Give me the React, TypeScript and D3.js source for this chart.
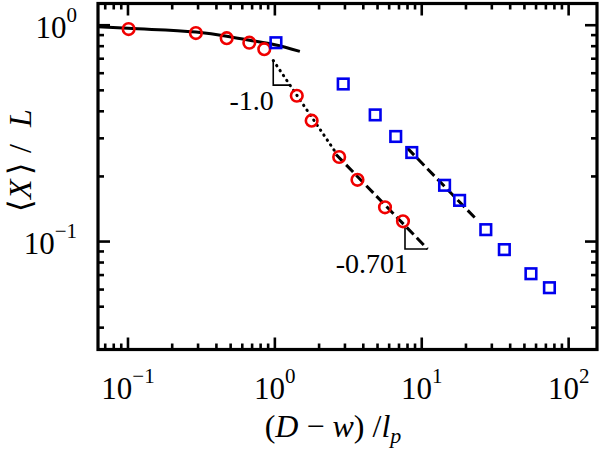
import React from 'react';
import * as d3 from 'd3';

// ---- data ----
const xDomain = [0.0625, 156];
const yDomain = [0.0317, 1.26];

const redX = [0.101, 0.29, 0.47, 0.67, 0.847, 1.41, 1.78, 2.74, 3.65, 5.62, 7.45];
const redY = [0.96, 0.92, 0.871, 0.83, 0.775, 0.472, 0.362, 0.246, 0.193, 0.144, 0.124];

const blueX = [1.017, 2.92, 4.82, 6.65, 8.55, 14.3, 18.1, 27.3, 36.5, 55.4, 74];
const blueY = [0.83, 0.535, 0.385, 0.306, 0.258, 0.182, 0.155, 0.1135, 0.0918, 0.071, 0.0612];

const fitX = [0.0625, 0.1, 0.29, 0.47, 0.67, 1.0, 1.48];
const fitY = [0.985, 0.967, 0.93, 0.89, 0.853, 0.812, 0.757];

// power-law guide lines: y = c * x^slope
const dottedRange = [0.975, 2.61];
const dottedC = 0.67;
const dottedSlope = -1.0;
const dashRedRange = [2.61, 10.96];
const dashRedC = 0.495;
const dashSlope = -0.701;
const dashBlueRange = [7.96, 23.0];
const dashBlueC = 1.16;

const tri1 = [0.975, 1.267];
const tri2 = [7.69, 10.96];
const tri1Label = '-1.0';
const tri2Label = '-0.701';

const xMajor = [0.1, 1, 10, 100];
const xMajorExp = ['\u22121', '0', '1', '2'];
const yMajor = [0.1, 1];
const yMajorExp = ['\u22121', '0'];

// y title pieces (text, italic, offset along axis)
const yTitleParts: [string, boolean, number][] = [
  ['\u27E8', false, -56],
  ['X', true, -43],
  ['\u27E9', false, -19],
  ['/', false, 3],
  ['L', true, 29],
];

const W = 600;
const H = 449;
const L = 98, R = 597, T = 3.5, B = 349.5;
const FONT = "'Liberation Serif', 'Times New Roman', 'DejaVu Serif', serif";

function minorTicks(domain: number[]) {
  const out: number[] = [];
  const lo = Math.floor(Math.log10(domain[0]));
  const hi = Math.ceil(Math.log10(domain[1]));
  for (let e = lo; e <= hi; e++) {
    for (let m = 2; m <= 9; m++) {
      const v = m * Math.pow(10, e);
      if (v > domain[0] && v < domain[1]) out.push(v);
    }
  }
  return out;
}

export default function App() {
  const x = d3.scaleLog().domain(xDomain).range([L, R]);
  const y = d3.scaleLog().domain(yDomain).range([B, T]);

  const pw = (c: number, s: number) => (v: number) => c * Math.pow(v, s);
  const fDot = pw(dottedC, dottedSlope);
  const fRed = pw(dashRedC, dashSlope);
  const fBlue = pw(dashBlueC, dashSlope);

  const line = d3.line<[number, number]>().x(d => x(d[0])).y(d => y(d[1]));
  const fitLine = d3
    .line<[number, number]>()
    .x(d => x(d[0]))
    .y(d => y(d[1]))
    .curve(d3.curveMonotoneX);

  const fitPts: [number, number][] = fitX.map((v, i) => [v, fitY[i]]);
  const dotPts: [number, number][] = dottedRange.map(v => [v, fDot(v)]);
  const redPts: [number, number][] = dashRedRange.map(v => [v, fRed(v)]);
  const bluePts: [number, number][] = dashBlueRange.map(v => [v, fBlue(v)]);

  const triPath = (r: number[], f: (v: number) => number) => {
    const p: [number, number][] = [
      [r[0], f(r[0])],
      [r[0], f(r[1])],
      [r[1], f(r[1])],
    ];
    return line(p) as string;
  };

  const xMinor = minorTicks(xDomain);
  const yMinor = minorTicks(yDomain);
  const MAJ = 12, MIN = 6;

  return (
    <svg
      width={W}
      height={H}
      style={{ position: 'absolute', left: 0, top: 0, display: 'block', background: '#fff', fontFamily: FONT }}
    >
      <rect x={0} y={0} width={W} height={H} fill="#fff" />

      {/* ticks */}
      <g stroke="#000" strokeWidth={2.6}>
        {xMajor.map(v => (
          <g key={'xM' + v}>
            <line x1={x(v)} x2={x(v)} y1={B} y2={B - MAJ} />
            <line x1={x(v)} x2={x(v)} y1={T} y2={T + MAJ} />
          </g>
        ))}
        {xMinor.map(v => (
          <g key={'xm' + v}>
            <line x1={x(v)} x2={x(v)} y1={B} y2={B - MIN} />
            <line x1={x(v)} x2={x(v)} y1={T} y2={T + MIN} />
          </g>
        ))}
        {yMajor.map(v => (
          <g key={'yM' + v}>
            <line x1={L} x2={L + MAJ} y1={y(v)} y2={y(v)} />
            <line x1={R} x2={R - MAJ} y1={y(v)} y2={y(v)} />
          </g>
        ))}
        {yMinor.map(v => (
          <g key={'ym' + v}>
            <line x1={L} x2={L + MIN} y1={y(v)} y2={y(v)} />
            <line x1={R} x2={R - MIN} y1={y(v)} y2={y(v)} />
          </g>
        ))}
      </g>

      {/* lines */}
      <path d={fitLine(fitPts) as string} fill="none" stroke="#000" strokeWidth={3} />
      <path
        d={line(dotPts) as string}
        fill="none"
        stroke="#000"
        strokeWidth={3}
        strokeLinecap="round"
        strokeDasharray="0.5,5.5"
      />
      <path d={line(redPts) as string} fill="none" stroke="#000" strokeWidth={3} strokeDasharray="10,4.5" />
      <path d={line(bluePts) as string} fill="none" stroke="#000" strokeWidth={3} strokeDasharray="10,4.5" />

      {/* slope triangles */}
      <path d={triPath(tri1, fDot)} fill="none" stroke="#000" strokeWidth={1.6} />
      <path d={triPath(tri2, fRed)} fill="none" stroke="#000" strokeWidth={1.6} />
      <text x={x(tri1[0]) + 0.5} y={110} fontSize={28} textAnchor="end">{tri1Label}</text>
      <text x={x(tri2[0]) + 3} y={273} fontSize={28} textAnchor="end">{tri2Label}</text>

      {/* markers */}
      {redX.map((v, i) => (
        <circle key={'r' + i} cx={x(v)} cy={y(redY[i])} r={5.8} fill="none" stroke="#f00000" strokeWidth={2.6} />
      ))}
      {blueX.map((v, i) => (
        <rect
          key={'b' + i}
          x={x(v) - 5.3}
          y={y(blueY[i]) - 5.3}
          width={10.6}
          height={10.6}
          fill="none"
          stroke="#0000ee"
          strokeWidth={2.6}
        />
      ))}

      {/* frame */}
      <rect x={L} y={T} width={R - L} height={B - T} fill="none" stroke="#000" strokeWidth={3.2} />

      {/* tick labels */}
      {xMajor.map((v, i) => (
        <text key={'xl' + v} x={x(v)} y={399} fontSize={31} textAnchor="middle">
          <tspan>10</tspan>
          <tspan dy={-16} fontSize={21}>{xMajorExp[i]}</tspan>
        </text>
      ))}
      {yMajor.map((v, i) => (
        <text key={'yl' + v} x={77} y={y(v) + 12.5} fontSize={31} textAnchor="end">
          <tspan>10</tspan>
          <tspan dy={-16} fontSize={21}>{yMajorExp[i]}</tspan>
        </text>
      ))}

      {/* axis titles */}
      <text x={333} y={437} fontSize={32} textAnchor="middle">
        <tspan>(</tspan>
        <tspan fontStyle="italic">D</tspan>
        <tspan> − </tspan>
        <tspan fontStyle="italic">w</tspan>
        <tspan>) /</tspan>
        <tspan fontStyle="italic">l</tspan>
        <tspan fontStyle="italic" fontSize={22} dy={6}>p</tspan>
      </text>
      <g transform="translate(31,156) rotate(-90)">
        {yTitleParts.map(([t, it, off], i) => (
          <text key={'yt' + i} x={off} y={0} fontSize={32} fontStyle={it ? 'italic' : 'normal'}>
            {t}
          </text>
        ))}
      </g>
    </svg>
  );
}
